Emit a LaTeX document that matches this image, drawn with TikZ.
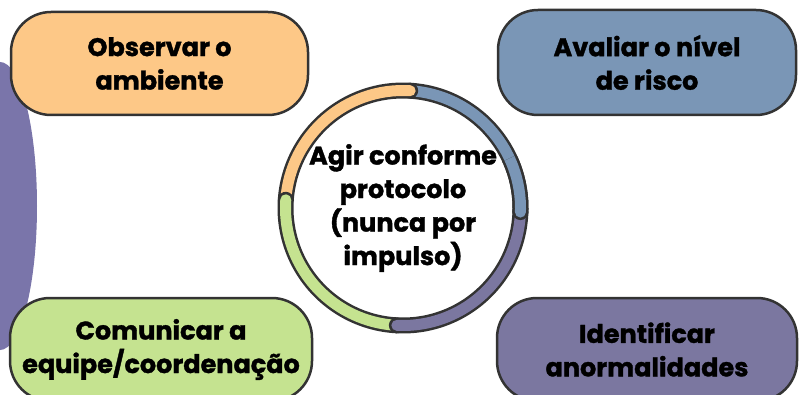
\documentclass[tikz,border=0pt]{standalone}
\usepackage{fontspec}
\setmainfont{Poppins}[BoldFeatures={FakeBold=1.3}]
\usetikzlibrary{backgrounds}
\definecolor{ringdark}{HTML}{333333}
\definecolor{cOrange}{HTML}{FDC887}
\definecolor{cBlue}{HTML}{7A96B6}
\definecolor{cGreen}{HTML}{C5E390}
\definecolor{cPurple}{HTML}{7B77A0}
\definecolor{cBlob}{HTML}{7A75AA}
\tikzset{
  box/.style={rectangle, rounded corners=40pt, draw=ringdark, line width=2.5pt,
    align=center, inner sep=0pt, font=\bfseries\fontsize{25.5}{33.5}\selectfont},
  conn/.style={draw=ringdark, line width=2.5pt, shorten >=-30pt},
  hub/.style={circle, fill=white, minimum size=220pt, inner sep=0pt, align=center,
    font=\bfseries\fontsize{25.5}{33.5}\selectfont}
}
\newcommand\ringarc[3]{%
  \draw[line width=16pt, draw=ringdark, line cap=round]
    ([shift={(#2:117.5)}]circ.center) arc[start angle=#2, end angle=#3, radius=117.5];
  \draw[line width=11pt, draw=#1, line cap=round]
    ([shift={(#2:117.5)}]circ.center) arc[start angle=#2, end angle=#3, radius=117.5];}
\begin{document}
\begin{tikzpicture}[x=1pt, y=1pt]
\useasboundingbox (0,0) rectangle (803,394);
\clip (0,0) rectangle (803,394);
\fill[white] (0,0) rectangle (803,394);
\fill[cBlob] (0,188) ellipse[x radius=37, y radius=144];
\node[hub] (circ) at (403,186) {Agir conforme\\protocolo\\(nunca por\\impulso)};
\node[box, fill=cOrange, minimum width=297pt, minimum height=103pt] (obs) at (159.5,330.5) {Observar o\\ambiente};
\node[box, fill=cBlue, minimum width=298pt, minimum height=105pt] (aval) at (647,331.5) {Avaliar o nível\\de risco};
\node[box, fill=cGreen, minimum width=302pt, minimum height=103pt] (com) at (161,44.5) {Comunicar a\\equipe/coordenação};
\node[box, fill=cPurple, minimum width=300pt, minimum height=103pt] (ident) at (647,44.5) {Identificar\\anormalidades};
\begin{scope}[on background layer]
  \draw[conn] (circ) -- (obs.south east);
  \draw[conn] (circ) -- (aval.south west);
  \draw[conn] (circ) -- (com.north east);
  \draw[conn] (circ) -- (ident.north west);
\end{scope}
\ringarc{cBlue}{358}{446.5}
\ringarc{cOrange}{86.5}{176}
\ringarc{cGreen}{176}{267}
\ringarc{cPurple}{267}{358}
\begin{scope}
  \clip (circ.center) -- ([shift={(325:140)}]circ.center) arc[start angle=325, end angle=385, radius=140] -- cycle;
  \ringarc{cBlue}{358}{446.5}
\end{scope}
\end{tikzpicture}
\end{document}
